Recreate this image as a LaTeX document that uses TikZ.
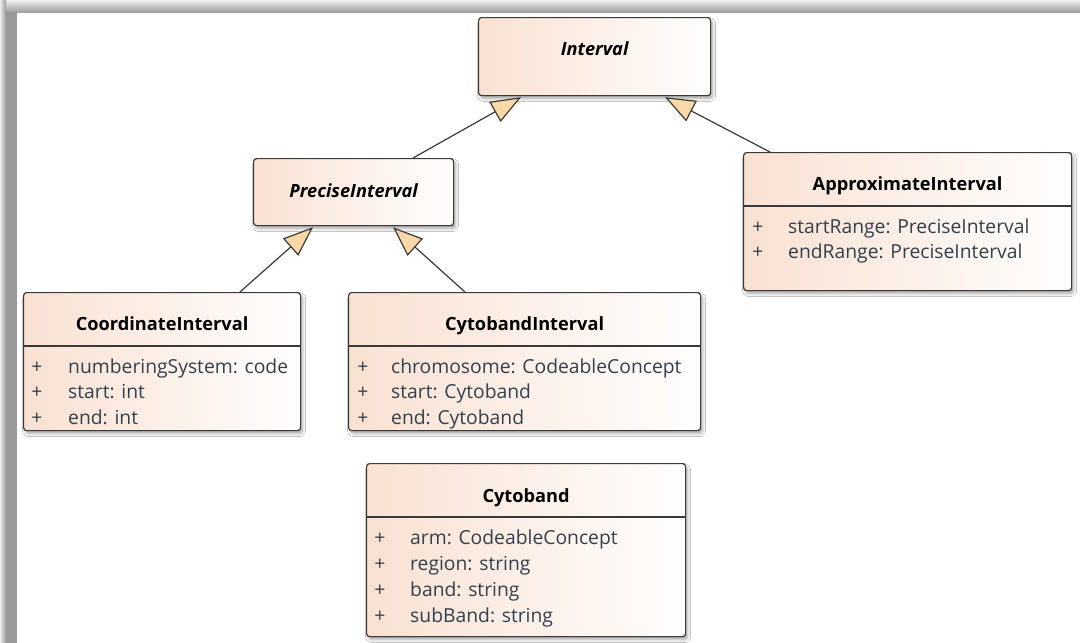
\documentclass[tikz,border=0pt]{standalone}
\usepackage{fontspec}
\setmainfont{Open Sans}
\usetikzlibrary{calc,arrows.meta,shadows.blur}
\definecolor{peach}{HTML}{F9E1D2}
\definecolor{attr}{HTML}{333F4B}
\definecolor{edge}{HTML}{3A3A3A}
\definecolor{tri}{HTML}{FBD8A8}
\begin{document}
\begin{tikzpicture}[x=1pt,y=-1pt,
  cls/.style={draw=edge, line width=1.2pt, rounded corners=3pt,
    left color=peach, right color=white!97!peach, anchor=north west, inner sep=0pt,
    blur shadow={shadow xshift=2pt, shadow yshift=-3pt, shadow blur radius=3pt, shadow opacity=35}},
  ttl/.style={anchor=base, inner sep=0pt, font=\fontsize{18.2}{21}\selectfont\bfseries, text=black},
  ittl/.style={ttl, font=\fontsize{18.2}{21}\selectfont\bfseries\itshape},
  atxt/.style={anchor=base west, inner sep=0pt, font=\fontsize{19.3}{22}\selectfont, text=attr},
  pls/.style={anchor=base, inner sep=0pt, font=\fontsize{19.3}{22}\selectfont, text=attr},
  sep/.style={draw=edge, line width=1.2pt},
  gen/.style={draw=edge, line width=1.2pt, -{Triangle[length=30pt,width=23pt,fill=tri]}}]

% page and frame
\fill[white] (0,0) rectangle (1080,643);
\shade[top color=black!6, bottom color=black!38] (0,0) rectangle (1080,12);
\shade[left color=black!8, right color=black!40] (0,0) rectangle (6,643);
\fill[black!40] (6,12) rectangle (17,643);
\useasboundingbox (0,0) rectangle (1080,643);

% abstract classes
\node[cls, minimum width=232pt, minimum height=78pt] (iv) at (478,17) {};
\node[ittl] (ivt) at ($(iv.north)+(0,38)$) {Interval};

\node[cls, minimum width=200pt, minimum height=67pt] (pi) at (253,158) {};
\node[ittl] (pit) at ($(pi.north)+(0,39)$) {PreciseInterval};

% ApproximateInterval
\node[cls, minimum width=328pt, minimum height=138pt] (ai) at (743,152) {};
\node[ttl] (ait) at ($(ai.north)+(0,38)$) {ApproximateInterval};
\draw[sep] ($(ai.north west)+(0,54)$) -- ($(ai.north east)+(0,54)$);
\node[pls] (aip1) at ($(ai.north west)+(15,81)$) {+};
\node[atxt] (aia1) at ($(ai.north west)+(45,81)$) {startRange: PreciseInterval};
\node[pls] (aip2) at ($(ai.north west)+(15,106.5)$) {+};
\node[atxt] (aia2) at ($(ai.north west)+(45,106.5)$) {endRange: PreciseInterval};

% CoordinateInterval
\node[cls, minimum width=277pt, minimum height=138pt] (ci) at (23,292) {};
\node[ttl] (cit) at ($(ci.north)+(0,38)$) {CoordinateInterval};
\draw[sep] ($(ci.north west)+(0,54)$) -- ($(ci.north east)+(0,54)$);
\node[pls] (cip1) at ($(ci.north west)+(14,81)$) {+};
\node[atxt] (cia1) at ($(ci.north west)+(45,81)$) {numberingSystem: code};
\node[pls] (cip2) at ($(ci.north west)+(14,106.5)$) {+};
\node[atxt] (cia2) at ($(ci.north west)+(45,106.5)$) {start: int};
\node[pls] (cip3) at ($(ci.north west)+(14,132)$) {+};
\node[atxt] (cia3) at ($(ci.north west)+(45,132)$) {end: int};

% CytobandInterval
\node[cls, minimum width=352pt, minimum height=138pt] (bi) at (348,292) {};
\node[ttl] (bit) at ($(bi.north)+(0,38)$) {CytobandInterval};
\draw[sep] ($(bi.north west)+(0,54)$) -- ($(bi.north east)+(0,54)$);
\node[pls] (bip1) at ($(bi.north west)+(15,81)$) {+};
\node[atxt] (bia1) at ($(bi.north west)+(43,81)$) {chromosome: CodeableConcept};
\node[pls] (bip2) at ($(bi.north west)+(15,106.5)$) {+};
\node[atxt] (bia2) at ($(bi.north west)+(43,106.5)$) {start: Cytoband};
\node[pls] (bip3) at ($(bi.north west)+(15,132)$) {+};
\node[atxt] (bia3) at ($(bi.north west)+(43,132)$) {end: Cytoband};

% Cytoband
\node[cls, minimum width=319pt, minimum height=173pt] (cb) at (366,463) {};
\node[ttl] (cbt) at ($(cb.north)+(0,39)$) {Cytoband};
\draw[sep] ($(cb.north west)+(0,54)$) -- ($(cb.north east)+(0,54)$);
\node[pls] (cbp1) at ($(cb.north west)+(14,81)$) {+};
\node[atxt] (cba1) at ($(cb.north west)+(44,81)$) {arm: CodeableConcept};
\node[pls] (cbp2) at ($(cb.north west)+(14,107)$) {+};
\node[atxt] (cba2) at ($(cb.north west)+(44,107)$) {region: string};
\node[pls] (cbp3) at ($(cb.north west)+(14,133)$) {+};
\node[atxt] (cba3) at ($(cb.north west)+(44,133)$) {band: string};
\node[pls] (cbp4) at ($(cb.north west)+(14,159)$) {+};
\node[atxt] (cba4) at ($(cb.north west)+(44,159)$) {subBand: string};

% generalizations
\draw[gen] ($(pi.north west)+(160,0)$) -- ($(iv.south west)+(43,1)$);
\draw[gen] ($(ai.north west)+(27,0)$) -- ($(iv.south west)+(187,1)$);
\draw[gen] ($(ci.north west)+(217,0)$) -- ($(pi.south west)+(60,1)$);
\draw[gen] ($(bi.north west)+(117,0)$) -- ($(pi.south west)+(140,1)$);
\end{tikzpicture}
\end{document}
